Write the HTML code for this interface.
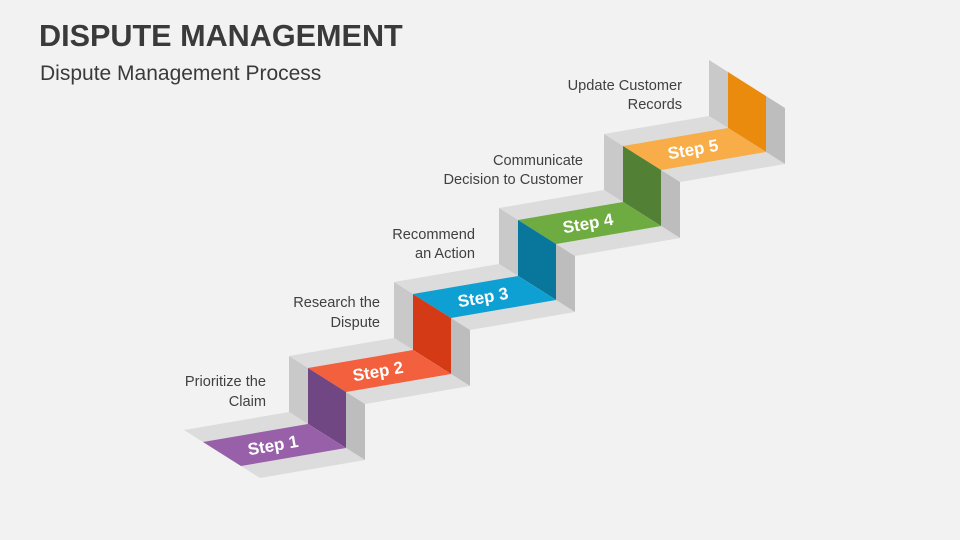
<!DOCTYPE html>
<html><head><meta charset="utf-8"><style>
body{margin:0;background:#f2f2f2;}
svg{display:block}
</style></head><body>
<svg width="960" height="540" viewBox="0 0 960 540" xmlns="http://www.w3.org/2000/svg">
<rect width="960" height="540" fill="#f2f2f2"/>
<text x="39" y="46" font-family="Liberation Sans, sans-serif" font-weight="bold" font-size="30.6" fill="#3a3a3a">DISPUTE MANAGEMENT</text>
<text x="40" y="80" font-family="Liberation Sans, sans-serif" font-size="21" fill="#3a3a3a">Dispute Management Process</text>

<g stroke="none">
<!-- top riser R4 -->
<polygon points="709,116 728,128 728,72 709,60" fill="#c9c9c9"/>
<polygon points="728,128 766,152 766,96 728,72" fill="#ea8b0e"/>
<polygon points="766,152 785,164 785,108 766,96" fill="#bdbdbd"/>
<!-- tread 4 -->
<polygon points="604,134 709,116 785,164 680,182" fill="#dcdcdc"/>
<polygon points="623,146 728,128 766,152 661,170" fill="#f8ad48"/>
<!-- R3 -->
<polygon points="604,190 623,202 623,146 604,134" fill="#c9c9c9"/>
<polygon points="623,202 661,226 661,170 623,146" fill="#528034"/>
<polygon points="661,226 680,238 680,182 661,170" fill="#bdbdbd"/>
<!-- tread 3 -->
<polygon points="499,208 604,190 680,238 575,256" fill="#dcdcdc"/>
<polygon points="518,220 623,202 661,226 556,244" fill="#6eab40"/>
<!-- R2 -->
<polygon points="499,264 518,276 518,220 499,208" fill="#c9c9c9"/>
<polygon points="518,276 556,300 556,244 518,220" fill="#08779b"/>
<polygon points="556,300 575,312 575,256 556,244" fill="#bdbdbd"/>
<!-- tread 2 -->
<polygon points="394,282 499,264 575,312 470,330" fill="#dcdcdc"/>
<polygon points="413,294 518,276 556,300 451,318" fill="#0ea0d2"/>
<!-- R1 -->
<polygon points="394,338 413,350 413,294 394,282" fill="#c9c9c9"/>
<polygon points="413,350 451,374 451,318 413,294" fill="#d43a16"/>
<polygon points="451,374 470,386 470,330 451,318" fill="#bdbdbd"/>
<!-- tread 1 -->
<polygon points="289,356 394,338 470,386 365,404" fill="#dcdcdc"/>
<polygon points="308,368 413,350 451,374 346,392" fill="#f2603d"/>
<!-- R0 -->
<polygon points="289,412 308,424 308,368 289,356" fill="#c9c9c9"/>
<polygon points="308,424 346,448 346,392 308,368" fill="#704683"/>
<polygon points="346,448 365,460 365,404 346,392" fill="#bdbdbd"/>
<!-- tread 0 -->
<polygon points="184,430 289,412 365,460 260,478" fill="#dcdcdc"/>
<polygon points="203,442 308,424 346,448 241,466" fill="#9760a9"/>
</g>

<g font-family="Liberation Sans, sans-serif" font-weight="bold" font-size="17" fill="#ffffff" text-anchor="middle">
<text transform="translate(274,451) rotate(-10)">Step 1</text>
<text transform="translate(379,377) rotate(-10)">Step 2</text>
<text transform="translate(484,303) rotate(-10)">Step 3</text>
<text transform="translate(589,229) rotate(-10)">Step 4</text>
<text transform="translate(694,155) rotate(-10)">Step 5</text>
</g>

<g font-family="Liberation Sans, sans-serif" font-size="14.6" fill="#404040" text-anchor="end">
<text x="266" y="386">Prioritize the</text>
<text x="266" y="406">Claim</text>
<text x="380" y="307">Research the</text>
<text x="380" y="327">Dispute</text>
<text x="475" y="239">Recommend</text>
<text x="475" y="258">an Action</text>
<text x="583" y="165">Communicate</text>
<text x="583" y="184">Decision to Customer</text>
<text x="682" y="90">Update Customer</text>
<text x="682" y="109">Records</text>
</g>
</svg>
</body></html>
